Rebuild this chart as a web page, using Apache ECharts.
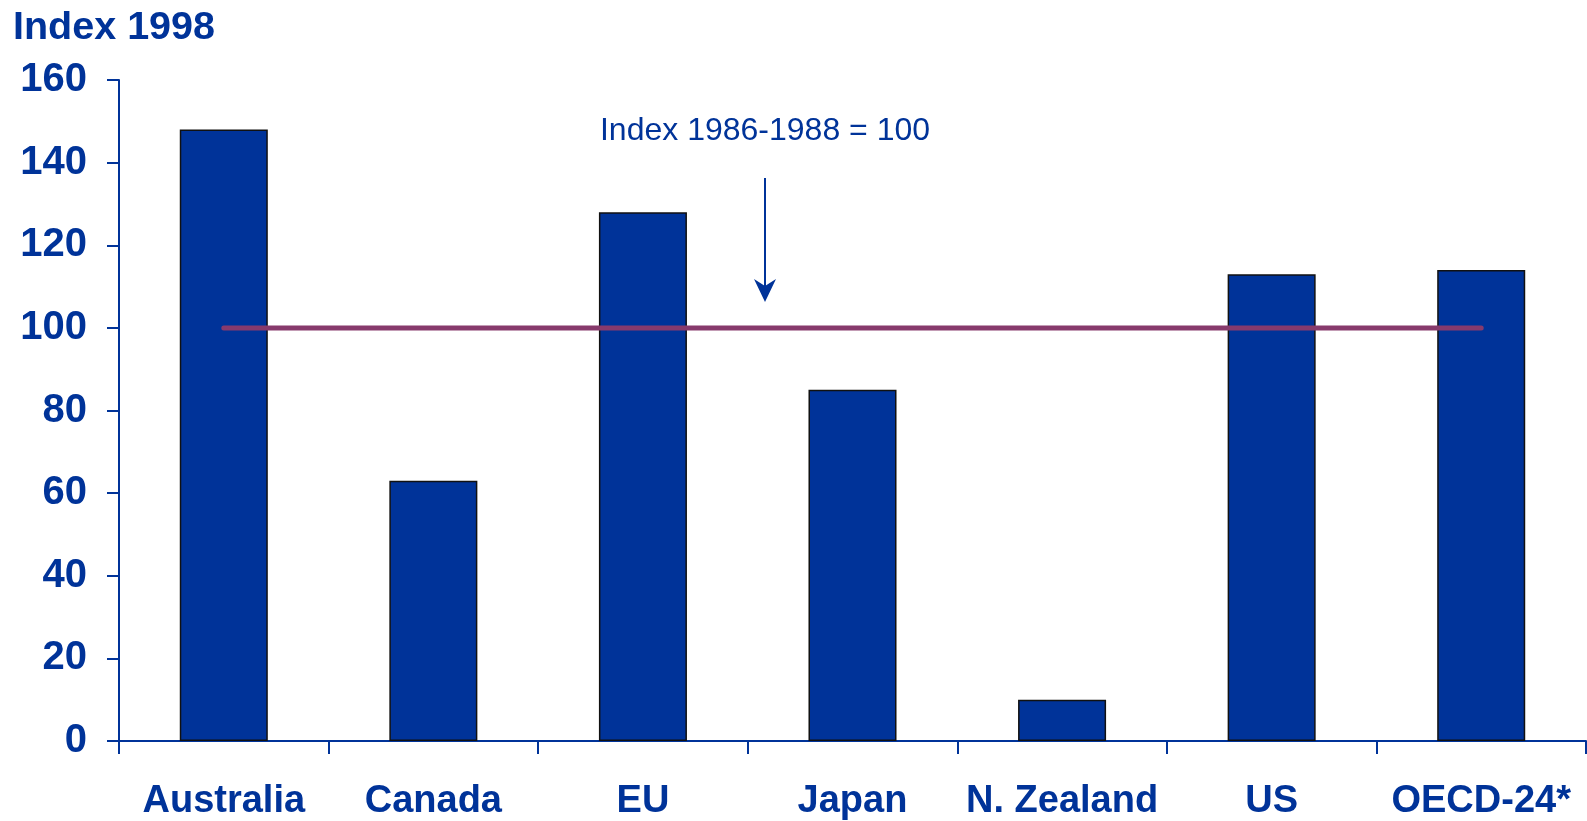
<!DOCTYPE html>
<html>
<head>
<meta charset="utf-8">
<script src="https://cdn.jsdelivr.net/npm/echarts@6/dist/echarts.min.js"></script>
<style>
  html, body { margin: 0; padding: 0; background: #fff; }
  #chart { width: 1587px; height: 821px; }
</style>
</head>
<body>
<div id="chart"></div>
<script>
// ── Index 1998 par pays (base 1986-1988 = 100) ──
const categories = ['Australia', 'Canada', 'EU', 'Japan', 'N. Zealand', 'US', 'OECD-24*'];
const index1998  = [148, 63, 128, 85, 10, 113, 114];
const baseline   = [100, 100, 100, 100, 100, 100, 100];
const yTicks     = { min: 0, max: 160, interval: 20 };

const BLUE   = '#003399';
const PLUM   = '#873a6c';
const FONT   = '"Liberation Sans", Arial, sans-serif';

const chart = echarts.init(document.getElementById('chart'), null, { renderer: 'canvas' });

chart.setOption({
  backgroundColor: '#fff',
  animation: false,
  grid: { left: 119, right: 1, top: 80, bottom: 78, containLabel: false },
  xAxis: {
    type: 'category',
    data: categories,
    boundaryGap: true,
    axisLine: { show: true, lineStyle: { color: BLUE, width: 2 } },
    axisTick: { show: true, interval: 0, length: 13, lineStyle: { color: BLUE, width: 2 } },
    axisLabel: {
      interval: 0, margin: 42, color: BLUE,
      fontFamily: FONT, fontWeight: 'bold', fontSize: 38
    },
    splitLine: { show: false }
  },
  yAxis: {
    type: 'value',
    min: yTicks.min, max: yTicks.max, interval: yTicks.interval,
    axisLine: { show: true, lineStyle: { color: BLUE, width: 2 } },
    axisTick: { show: true, length: 12, lineStyle: { color: BLUE, width: 2 } },
    axisLabel: {
      margin: 32, color: BLUE,
      fontFamily: FONT, fontWeight: 'bold', fontSize: 40
    },
    splitLine: { show: false }
  },
  series: [
    {
      type: 'bar',
      data: index1998,
      barWidth: '42%',
      itemStyle: { color: BLUE, borderColor: '#111', borderWidth: 1.5 }
    },
    {
      // ligne de référence 100
      type: 'line',
      data: baseline,
      symbol: 'none',
      lineStyle: { color: PLUM, width: 5, cap: 'round' },
      z: 5
    }
  ],
  graphic: [
    {
      type: 'text', left: 13, top: 8,
      style: { text: 'Index 1998', fill: BLUE, font: 'bold 39.5px ' + FONT }
    },
    {
      type: 'text', x: 765, y: 131,
      style: {
        text: 'Index 1986-1988 = 100', fill: BLUE, font: '32px ' + FONT,
        align: 'center', verticalAlign: 'middle'
      }
    },
    {
      type: 'line',
      shape: { x1: 765, y1: 178, x2: 765, y2: 290 },
      style: { stroke: BLUE, lineWidth: 2 }
    },
    {
      type: 'polygon',
      shape: { points: [[754, 279], [765, 302], [776, 279], [765, 286]] },
      style: { fill: BLUE }
    }
  ]
});
</script>
</body>
</html>
